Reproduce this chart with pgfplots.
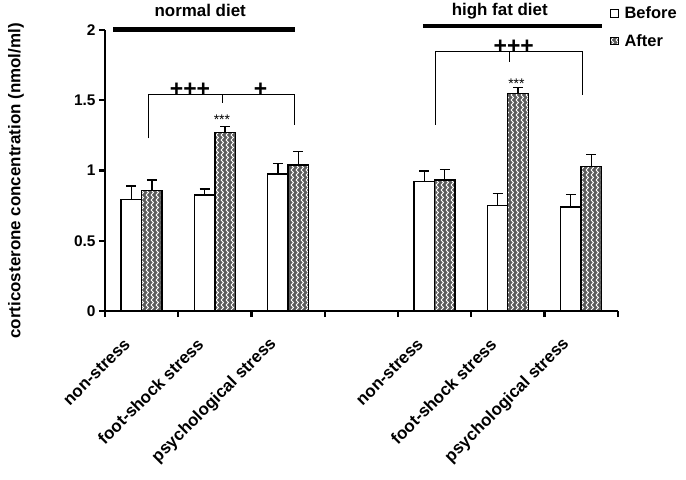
\documentclass[border=0pt]{standalone}
\usepackage{fontspec}
\setmainfont{Liberation Sans}
\usepackage{pgfplots}
\pgfplotsset{compat=1.18}
\usetikzlibrary{patterns}

% white zigzag columns on dark ground, like the "After" bars
\pgfdeclarepatterninherentlycolored{herring}{\pgfpoint{-0.1bp}{-0.1bp}}{\pgfpoint{5.1bp}{5.1bp}}{\pgfpoint{5bp}{5bp}}{
  \pgfsetfillcolor{black!64}
  \pgfpathrectangle{\pgfpointorigin}{\pgfpoint{5bp}{5bp}}\pgfusepath{fill}
  \pgfsetstrokecolor{white}\pgfsetlinewidth{1.0bp}
  \pgfpathmoveto{\pgfpoint{1bp}{0bp}}\pgfpathlineto{\pgfpoint{3.5bp}{2.5bp}}\pgfpathlineto{\pgfpoint{1bp}{5bp}}
  \pgfusepath{stroke}
}

\newcommand{\lab}{\fontsize{17}{17}\selectfont\bfseries}
\newcommand{\leg}{\fontsize{16.5}{16.5}\selectfont\bfseries}
\newcommand{\tck}{\fontsize{15.5}{15.5}\selectfont\bfseries}
\newcommand{\plusf}{\fontsize{23}{23}\selectfont\bfseries}
\newcommand{\starf}{\fontsize{14}{14}\selectfont}

\pgfplotsset{
  sq legend/.style={legend image code/.code={\draw[##1, line width=0.9bp] (0bp,-3.75bp) rectangle (7.5bp,3.75bp);}},
  eb/.style={error bars/.cd, y dir=plus, y explicit,
    error bar style={line width=1.3bp, black},
    error mark options={rotate=90, mark size=5bp, line width=1.3bp, black}},
}

\begin{document}
\begin{tikzpicture}
\useasboundingbox (-105bp,-169bp) rectangle (581bp,311bp);
\begin{axis}[
  at={(0,0)}, anchor=south west, scale only axis,
  width=512.7bp, height=281bp,
  xmin=-0.5, xmax=6.5, ymin=0, ymax=2,
  clip=false,
  axis x line=bottom, axis y line=left,
  axis line style={-, line width=2.6bp},
  ybar=0pt, bar width=20.5bp,
  ytick={0,0.5,1,1.5,2},
  yticklabels={0,0.5,1,1.5,2},
  yticklabel style={font=\tck},
  tick align=outside, major tick length=6bp,
  every tick/.style={black, line width=2.2bp},
  xtick={-0.5,0.5,...,6.5}, xticklabels={},
  extra x ticks={0,1,2,4,5,6},
  extra x tick labels={non-stress, foot-shock stress, psychological stress, non-stress, foot-shock stress, psychological stress},
  extra x tick style={major tick length=0bp},
  xticklabel style={font=\lab, xshift=-12bp, yshift=-28bp, rotate=45, anchor=east},
  ylabel={corticosterone concentration (nmol/ml)},
  every axis y label/.style={at={(axis description cs:-0.1736,0.463)}, rotate=90, anchor=center, font=\lab},
  legend style={draw=none, fill=none, at={(0.985,1.09)}, anchor=north west,
    font=\leg, row sep=10bp, column sep=4bp, inner sep=0pt},
  legend cell align=left,
]
\addplot[draw=black, fill=white, line width=1.3bp, sq legend, eb] coordinates {
  (0,0.795) +- (0,0.095)
  (1,0.826) +- (0,0.042)
  (2,0.975) +- (0,0.073)
  (4,0.920) +- (0,0.076)
  (5,0.752) +- (0,0.086)
  (6,0.740) +- (0,0.088)
};
\addlegendentry{Before}
\addplot[draw=black, pattern=herring, line width=1.3bp, sq legend, eb] coordinates {
  (0,0.859) +- (0,0.073)
  (1,1.272) +- (0,0.040)
  (2,1.039) +- (0,0.095)
  (4,0.932) +- (0,0.074)
  (5,1.549) +- (0,0.040)
  (6,1.027) +- (0,0.086)
};
\addlegendentry{After}

% group bars and titles
\draw[line width=4.5bp] (axis cs:-0.39,2.005) -- (axis cs:2.09,2.005);
\node[anchor=base, font=\lab] at (axis cs:0.80,2.095) {normal diet};
\draw[line width=4.5bp] (axis cs:3.84,2.028) -- (axis cs:6.29,2.028);
\node[anchor=base, font=\lab] at (axis cs:4.89,2.10) {high fat diet};

% normal diet comparisons
\draw[line width=1.2bp] (axis cs:0.091,1.229) -- (axis cs:0.091,1.542) -- (axis cs:2.092,1.542) -- (axis cs:2.092,1.324);
\draw[line width=1.2bp] (axis cs:1.106,1.542) -- (axis cs:1.106,1.483);
\node[anchor=base, font=\plusf, inner sep=0pt] at (axis cs:0.66,1.53) {+++};
\node[anchor=base, font=\plusf, inner sep=0pt] at (axis cs:1.624,1.53) {+};
\node[anchor=base, font=\starf, inner sep=0pt] at (axis cs:1.096,1.326) {***};

% high fat diet comparisons
\draw[line width=1.2bp] (axis cs:4.01,1.324) -- (axis cs:4.01,1.846) -- (axis cs:6.017,1.846) -- (axis cs:6.017,1.537);
\draw[line width=1.2bp] (axis cs:5.025,1.846) -- (axis cs:5.025,1.77);
\node[anchor=base, font=\plusf, inner sep=0pt] at (axis cs:5.08,1.834) {+++};
\node[anchor=base, font=\starf, inner sep=0pt] at (axis cs:5.117,1.587) {***};
\end{axis}
\end{tikzpicture}
\end{document}
